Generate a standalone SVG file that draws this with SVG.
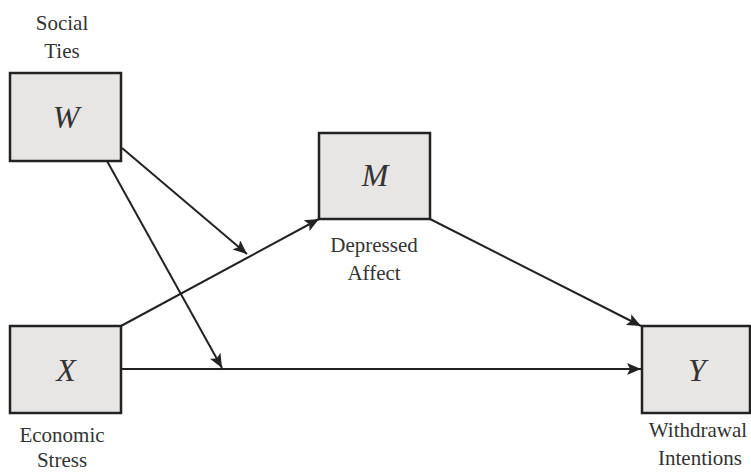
<svg xmlns="http://www.w3.org/2000/svg" width="751" height="472" viewBox="0 0 751 472">
<style>
.box{fill:#e8e6e4;stroke:#222;stroke-width:2.5}
.var{font-style:italic;font-size:32px;fill:#333;text-anchor:middle}
.lbl{font-size:21px;fill:#333;text-anchor:middle}
.conn{stroke:#222;stroke-width:2;fill:none}
</style>
<defs>
<marker id="ah" markerUnits="userSpaceOnUse" markerWidth="16" markerHeight="12" refX="14" refY="6" orient="auto">
<path d="M0,0 L14,6 L0,12 L3,6 Z" fill="#222"/>
</marker>
</defs>
<rect width="751" height="472" fill="#fff"/>
<g font-family="'Liberation Serif', 'DejaVu Serif', serif">
<g id="node-W">
<rect class="box" x="10" y="73" width="111" height="88"/>
<text class="var" x="66" y="128">W</text>
<text class="lbl" x="62" y="30">Social</text>
<text class="lbl" x="62" y="58">Ties</text>
</g>
<g id="node-M">
<rect class="box" x="319" y="133" width="111" height="86"/>
<text class="var" x="375" y="186">M</text>
<text class="lbl" x="374" y="252">Depressed</text>
<text class="lbl" x="374" y="280">Affect</text>
</g>
<g id="node-X">
<rect class="box" x="10" y="326" width="111" height="87"/>
<text class="var" x="66" y="381">X</text>
<text class="lbl" x="62" y="442">Economic</text>
<text class="lbl" x="62" y="467">Stress</text>
</g>
<g id="node-Y">
<rect class="box" x="642" y="326" width="108" height="87"/>
<text class="var" x="697" y="381">Y</text>
<text class="lbl" x="698" y="437">Withdrawal</text>
<text class="lbl" x="700" y="465">Intentions</text>
</g>
</g>
<g id="connectors">
<line class="conn" x1="121" y1="326" x2="319" y2="219" marker-end="url(#ah)"/>
<line class="conn" x1="121" y1="369" x2="641" y2="369" marker-end="url(#ah)"/>
<line class="conn" x1="430" y1="219" x2="641" y2="326" marker-end="url(#ah)"/>
<line class="conn" x1="122" y1="148" x2="247" y2="254" marker-end="url(#ah)"/>
<line class="conn" x1="107" y1="161" x2="222" y2="368" marker-end="url(#ah)"/>
</g>
</svg>
